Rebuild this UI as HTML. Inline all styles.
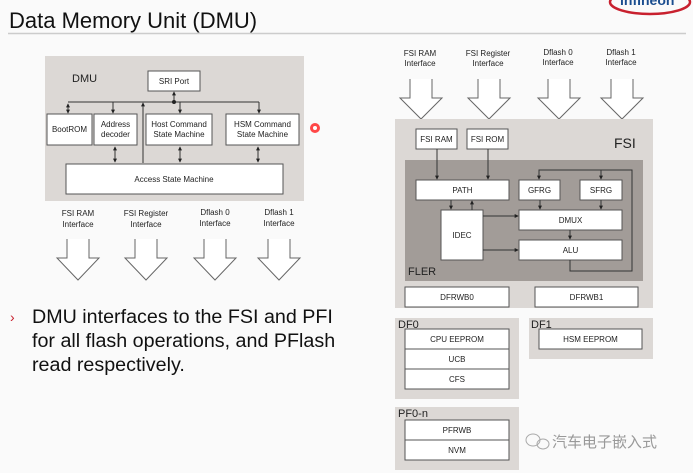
<!DOCTYPE html>
<html><head><meta charset="utf-8"><style>
html,body{margin:0;padding:0;background:#fafafa;}
svg{display:block;font-family:"Liberation Sans",sans-serif;}
.b{fill:#fff;stroke:#555;stroke-width:1;}
.t{font-size:8px;fill:#222;text-anchor:middle;}
.l{stroke:#333;stroke-width:1;fill:none;}
.ha{fill:#fff;stroke:#666;stroke-width:1;}
</style></head><body>
<svg width="693" height="473" viewBox="0 0 693 473" xmlns="http://www.w3.org/2000/svg">
<defs>
<marker id="a" viewBox="0 0 6 6" refX="5" refY="3" markerWidth="4" markerHeight="4" orient="auto-start-reverse"><path d="M0,0L6,3L0,6z" fill="#222"/></marker>
</defs>
<rect width="693" height="473" fill="#fafafa"/>
<text x="9" y="28" font-size="22" fill="#111">Data Memory Unit (DMU)</text>
<line x1="8" y1="33.5" x2="686" y2="33.5" stroke="#ccc" stroke-width="1.5"/>
<!-- logo -->
<ellipse cx="650" cy="2" rx="40" ry="12" fill="none" stroke="#c8202e" stroke-width="2.5"/>
<text x="620" y="5" font-size="14" font-weight="bold" fill="#1a4d8f">infineon</text>

<!-- DMU block -->
<rect x="45" y="56" width="259" height="145" fill="#dcd8d5"/>
<text x="72" y="82" font-size="11" fill="#222">DMU</text>
<rect class="b" x="148" y="71" width="52" height="20"/><text class="t" x="174" y="84">SRI Port</text>
<rect class="b" x="47" y="114" width="45" height="31"/><text class="t" x="69.5" y="132">BootROM</text>
<rect class="b" x="94" y="114" width="43" height="31"/><text class="t" x="115.5" y="127">Address</text><text class="t" x="115.5" y="137">decoder</text>
<rect class="b" x="146" y="114" width="66" height="31"/><text class="t" x="179" y="127">Host Command</text><text class="t" x="179" y="137">State Machine</text>
<rect class="b" x="226" y="114" width="73" height="31"/><text class="t" x="262.5" y="127">HSM Command</text><text class="t" x="262.5" y="137">State Machine</text>
<rect class="b" x="66" y="164" width="217" height="30"/><text class="t" x="174" y="182">Access State Machine</text>
<line class="l" x1="68" y1="102" x2="259" y2="102"/>
<line class="l" x1="174" y1="102" x2="174" y2="92" marker-end="url(#a)"/>
<circle cx="174" cy="102" r="2" fill="#222"/>
<line class="l" x1="68" y1="104" x2="68" y2="113" marker-end="url(#a)" marker-start="url(#a)"/>
<line class="l" x1="113" y1="102" x2="113" y2="113" marker-end="url(#a)"/>
<line class="l" x1="180" y1="102" x2="180" y2="113" marker-end="url(#a)"/>
<line class="l" x1="259" y1="102" x2="259" y2="113" marker-end="url(#a)"/>
<line class="l" x1="143" y1="163" x2="143" y2="103" marker-end="url(#a)"/>
<line class="l" x1="115" y1="147" x2="115" y2="162" marker-end="url(#a)" marker-start="url(#a)"/>
<line class="l" x1="180" y1="147" x2="180" y2="162" marker-end="url(#a)" marker-start="url(#a)"/>
<line class="l" x1="258" y1="147" x2="258" y2="162" marker-end="url(#a)" marker-start="url(#a)"/>
<text class="t" x="78" y="216">FSI RAM</text><text class="t" x="78" y="227">Interface</text>
<text class="t" x="146" y="216">FSI Register</text><text class="t" x="146" y="227">Interface</text>
<text class="t" x="215" y="215">Dflash 0</text><text class="t" x="215" y="226">Interface</text>
<text class="t" x="279" y="215">Dflash 1</text><text class="t" x="279" y="226">Interface</text>
<g class="ha">
<path d="M67,239V258H57L78,280L99,258H89V239"/>
<path d="M135,239V258H125L146,280L167,258H157V239"/>
<path d="M204,239V258H194L215,280L236,258H226V239"/>
<path d="M268,239V258H258L279,280L300,258H290V239"/>
</g>
<circle cx="315" cy="128" r="5" fill="#f33" opacity="0.9"/><circle cx="315" cy="128" r="2" fill="#fff"/>

<!-- bullet text -->
<text x="10" y="322" font-size="14" fill="#c8202e">›</text>
<text font-size="19.7" fill="#111"><tspan x="32" y="323">DMU interfaces to the FSI and PFI</tspan><tspan x="32" y="347">for all flash operations, and PFlash</tspan><tspan x="32" y="371">read respectively.</tspan></text>

<!-- right top labels -->
<text class="t" x="420" y="56">FSI RAM</text><text class="t" x="420" y="66">Interface</text>
<text class="t" x="488" y="56">FSI Register</text><text class="t" x="488" y="66">Interface</text>
<text class="t" x="558" y="55">Dflash 0</text><text class="t" x="558" y="65">Interface</text>
<text class="t" x="621" y="55">Dflash 1</text><text class="t" x="621" y="65">Interface</text>
<g class="ha">
<path d="M410,79V98H400L421,119L442,98H432V79"/>
<path d="M478,79V98H468L489,119L510,98H500V79"/>
<path d="M548,79V98H538L559,119L580,98H570V79"/>
<path d="M611,79V98H601L622,119L643,98H633V79"/>
</g>
<!-- FSI -->
<rect x="395" y="119" width="258" height="189" fill="#dcd8d5"/>
<text x="614" y="148" font-size="14" fill="#222">FSI</text>
<rect class="b" x="416" y="129" width="41" height="20"/><text class="t" x="436.5" y="142">FSI RAM</text>
<rect class="b" x="467" y="129" width="41" height="20"/><text class="t" x="487.5" y="142">FSI ROM</text>
<rect x="405" y="160" width="238" height="121" fill="#a29c98"/>
<text x="408" y="275" font-size="11" fill="#222">FLER</text>
<rect class="b" x="416" y="180" width="93" height="20"/><text class="t" x="462.5" y="193">PATH</text>
<rect class="b" x="519" y="180" width="41" height="20"/><text class="t" x="539.5" y="193">GFRG</text>
<rect class="b" x="580" y="180" width="42" height="20"/><text class="t" x="601" y="193">SFRG</text>
<rect class="b" x="441" y="210" width="42" height="50"/><text class="t" x="462" y="238">IDEC</text>
<rect class="b" x="519" y="210" width="103" height="20"/><text class="t" x="570.5" y="223">DMUX</text>
<rect class="b" x="519" y="240" width="103" height="20"/><text class="t" x="570.5" y="253">ALU</text>
<line class="l" x1="437" y1="149" x2="437" y2="179" marker-end="url(#a)"/>
<line class="l" x1="488" y1="149" x2="488" y2="179" marker-end="url(#a)"/>
<line class="l" x1="451" y1="200" x2="451" y2="209" marker-end="url(#a)"/>
<line class="l" x1="472" y1="210" x2="472" y2="201" marker-end="url(#a)"/>
<line class="l" x1="483" y1="216" x2="518" y2="216" marker-end="url(#a)"/>
<line class="l" x1="483" y1="250" x2="518" y2="250" marker-end="url(#a)"/>
<line class="l" x1="540" y1="200" x2="540" y2="209" marker-end="url(#a)"/>
<line class="l" x1="601" y1="200" x2="601" y2="209" marker-end="url(#a)"/>
<line class="l" x1="570" y1="230" x2="570" y2="239" marker-end="url(#a)"/>
<path class="l" d="M570,260V271H632V170H539V179" marker-end="url(#a)"/>
<line class="l" x1="601" y1="170" x2="601" y2="179" marker-end="url(#a)"/>
<rect class="b" x="405" y="287" width="104" height="20"/><text class="t" x="457" y="300">DFRWB0</text>
<rect class="b" x="535" y="287" width="103" height="20"/><text class="t" x="586.5" y="300">DFRWB1</text>
<!-- DF0 -->
<rect x="395" y="318" width="124" height="81" fill="#dcd8d5"/>
<text x="398" y="328" font-size="11" fill="#222">DF0</text>
<rect class="b" x="405" y="329" width="104" height="20"/><text class="t" x="457" y="342">CPU EEPROM</text>
<rect class="b" x="405" y="349" width="104" height="20"/><text class="t" x="457" y="362">UCB</text>
<rect class="b" x="405" y="369" width="104" height="20"/><text class="t" x="457" y="382">CFS</text>
<rect x="529" y="318" width="124" height="41" fill="#dcd8d5"/>
<text x="531" y="328" font-size="11" fill="#222">DF1</text>
<rect class="b" x="539" y="329" width="103" height="20"/><text class="t" x="590.5" y="342">HSM EEPROM</text>
<rect x="395" y="407" width="124" height="63" fill="#dcd8d5"/>
<text x="398" y="417" font-size="11" fill="#222">PF0-n</text>
<rect class="b" x="405" y="420" width="104" height="20"/><text class="t" x="457" y="433">PFRWB</text>
<rect class="b" x="405" y="440" width="104" height="20"/><text class="t" x="457" y="453">NVM</text>
<!-- watermark -->
<ellipse cx="533" cy="440" rx="7" ry="6" fill="none" stroke="#aaa"/>
<ellipse cx="543" cy="444" rx="6" ry="5" fill="none" stroke="#aaa"/>
<text x="552" y="447" font-size="15" fill="#999" font-family="'Noto Sans CJK SC',sans-serif">汽车电子嵌入式</text>
</svg>
</body></html>
